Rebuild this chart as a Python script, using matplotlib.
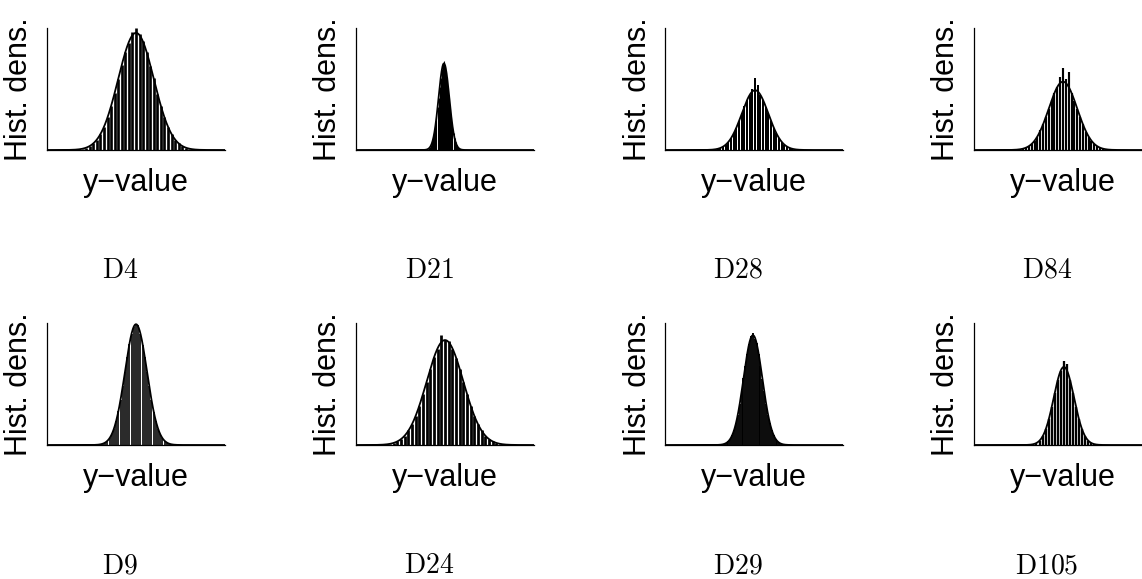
import matplotlib

matplotlib.use("Agg")
import matplotlib.pyplot as plt
import numpy as np

plt.rcParams["mathtext.fontset"] = "cm"
plt.rcParams["font.family"] = ["Liberation Sans", "DejaVu Sans"]

# Panel captions, in reading order (row by row)
captions = ["D4", "D21", "D28", "D84", "D9", "D24", "D29", "D105"]

# Fitted normal curve per panel (x axis 0..100, y axis 0..1)
curve_mean = [50.0, 49.4, 50.6, 50.0, 50.0, 50.0, 49.4, 50.5]
curve_sd = [10.0, 3.0, 7.5, 8.0, 6.2, 10.3, 5.3, 5.7]
curve_peak = [0.96, 0.71, 0.49, 0.56, 0.99, 0.86, 0.90, 0.64]

# Histogram bins: first bin centre and bin width
bin_start = [14.0, 38.6, 23.6, 21.2, 27.68, 12.92, 30.32, 29.98]
bin_width = [2.0, 0.6, 1.5, 1.6, 1.24, 2.06, 1.06, 1.71]

# Histogram heights
hist_d4 = [0.001, 0.003, 0.006, 0.011, 0.019, 0.033, 0.054, 0.086, 0.13, 0.19, 0.27, 0.36, 0.47,
           0.58, 0.70, 0.80, 0.88, 0.97, 1.00, 0.95, 0.89, 0.80, 0.69, 0.59, 0.46, 0.36, 0.27,
           0.19, 0.13, 0.085, 0.054, 0.032, 0.019, 0.010, 0.006, 0.003, 0.001]
hist_d21 = [0.001, 0.002, 0.004, 0.008, 0.014, 0.024, 0.040, 0.063, 0.096, 0.14, 0.20, 0.27, 0.35,
            0.43, 0.52, 0.59, 0.66, 0.71, 0.73, 0.70, 0.65, 0.60, 0.51, 0.43, 0.34, 0.27, 0.19,
            0.14, 0.095, 0.062, 0.040, 0.024, 0.014, 0.008, 0.004, 0.002, 0.001]
hist_d28 = [0.001, 0.002, 0.003, 0.005, 0.010, 0.017, 0.027, 0.044, 0.066, 0.097, 0.14, 0.18, 0.24,
            0.30, 0.36, 0.41, 0.45, 0.50, 0.59, 0.53, 0.45, 0.41, 0.35, 0.30, 0.24, 0.18, 0.14,
            0.097, 0.066, 0.044, 0.027, 0.017, 0.010, 0.005, 0.003, 0.002, 0.001]
hist_d84 = [0.001, 0.002, 0.003, 0.006, 0.011, 0.019, 0.031, 0.050, 0.076, 0.11, 0.16, 0.21, 0.27,
            0.34, 0.41, 0.47, 0.52, 0.60, 0.67, 0.58, 0.64, 0.47, 0.40, 0.34, 0.27, 0.21, 0.15,
            0.11, 0.076, 0.050, 0.031, 0.019, 0.011, 0.006, 0.003, 0.002, 0.001]
hist_d9 = [0.001, 0.003, 0.006, 0.011, 0.020, 0.034, 0.055, 0.088, 0.13, 0.20, 0.28, 0.37, 0.48,
           0.60, 0.72, 0.83, 0.91, 0.97, 0.99, 0.98, 0.91, 0.82, 0.72, 0.60, 0.48, 0.37, 0.27,
           0.20, 0.13, 0.088, 0.055, 0.034, 0.020, 0.011, 0.006, 0.003, 0.001]
hist_d24 = [0.001, 0.003, 0.005, 0.009, 0.017, 0.029, 0.048, 0.077, 0.12, 0.17, 0.24, 0.32, 0.42,
            0.52, 0.62, 0.72, 0.79, 0.90, 0.86, 0.85, 0.79, 0.71, 0.62, 0.52, 0.42, 0.32, 0.24,
            0.17, 0.12, 0.077, 0.048, 0.029, 0.017, 0.009, 0.005, 0.003, 0.001]
hist_d29 = [0.001, 0.003, 0.005, 0.010, 0.018, 0.031, 0.050, 0.080, 0.12, 0.18, 0.25, 0.34, 0.44,
            0.55, 0.65, 0.75, 0.83, 0.89, 0.92, 0.87, 0.84, 0.75, 0.65, 0.54, 0.44, 0.34, 0.25,
            0.18, 0.12, 0.080, 0.050, 0.031, 0.018, 0.010, 0.005, 0.003, 0.001]
hist_d105 = [0.001, 0.003, 0.007, 0.017, 0.036, 0.070, 0.13, 0.21, 0.31, 0.43, 0.53, 0.61, 0.69,
             0.66, 0.53, 0.43, 0.31, 0.21, 0.13, 0.070, 0.036, 0.017, 0.007, 0.003, 0.001]

hists = [hist_d4, hist_d21, hist_d28, hist_d84, hist_d9, hist_d24, hist_d29, hist_d105]

W, H = 1142, 579
AX_W, AX_H = 178, 122
fig = plt.figure(figsize=(W / 100, H / 100), dpi=100)

for i, cap in enumerate(captions):
    row, col = divmod(i, 4)
    left = 47 + 309 * col
    bottom = 150 + 295 * row
    ax = fig.add_axes([left / W, 1 - bottom / H, AX_W / W, AX_H / H])

    heights = np.array(hists[i])
    xs = bin_start[i] + bin_width[i] * np.arange(len(heights))
    # bar stroke: mostly fills each bin, leaving a thin white gap
    gap_px = bin_width[i] / 100 * AX_W
    stroke_px = gap_px if gap_px < 2 else 0.75 * gap_px
    ax.vlines(xs, 0, heights, color="black", linewidth=stroke_px * 0.72)

    xc = np.linspace(0, 100, 600)
    yc = curve_peak[i] * np.exp(-0.5 * ((xc - curve_mean[i]) / curve_sd[i]) ** 2)
    ax.plot(xc, yc, color="black", linewidth=1.3)

    ax.set_xlim(0, 100)
    ax.set_ylim(0, 1)
    ax.set_xticks([])
    ax.set_yticks([])
    for side in ("top", "right"):
        ax.spines[side].set_visible(False)
    for side in ("left", "bottom"):
        ax.spines[side].set_linewidth(0.9)
    ax.set_xlabel("y\u2212value", fontsize=22, labelpad=13)
    ax.set_ylabel("Hist. dens.", fontsize=22, labelpad=9)

    fig.text((120 + 309 * col) / W, 1 - (271 + 295 * row) / H, rf"$\mathrm{{{cap}}}$",
             fontsize=20, ha="center", va="center")

fig.savefig("out.png", dpi=100)
